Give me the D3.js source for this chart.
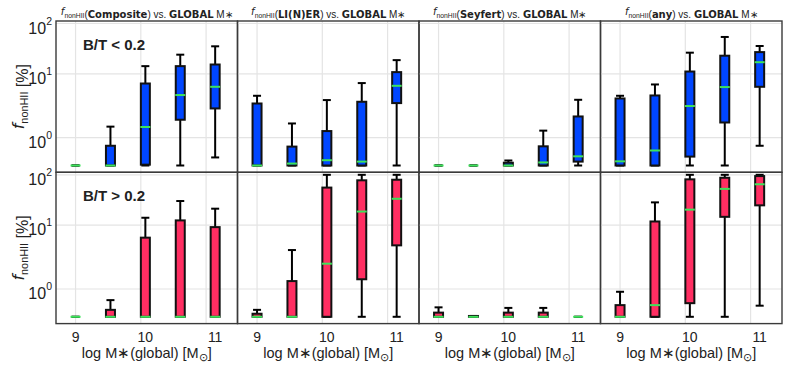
<!DOCTYPE html>
<html>
<head>
<meta charset="utf-8">
<script src="https://cdn.jsdelivr.net/npm/d3@7"></script>
<style>
body { margin: 0; background: #fff; }
text { font-family: "Liberation Sans", Arial, sans-serif; fill: #222; }
</style>
</head>
<body>
<svg id="chart"></svg>
<script>
var masses = [9, 9.5, 10, 10.5, 11];
var massTicks = [9, 10, 11];
var fracTicks = [1, 10, 100];
var fracTickExp = ["0", "1", "2"];
var classes = ["Composite", "LI(N)ER", "Seyfert", "any"];
var rowLabels = ["B/T < 0.2", "B/T > 0.2"];

// one box per mass bin: [whisker low, q1, median, q3, whisker high], in per cent
var compositeDisk = [[0,0,0,0,0], [0,0,0,0.71,1.49], [0,0.03,1.47,7.05,14.2], [0,1.91,4.65,14.2,24], [0.29,2.87,6.26,15.3,35.2]];
var linerDisk     = [[0,0,0,3.43,4.53], [0,0,0.07,0.68,1.67], [0,0,0.19,1.27,3.88], [0,0,0.14,3.65,7.16], [0,3.48,6.49,10.8,18.7]];
var seyfertDisk   = [[0,0,0,0,0], [0,0,0,0,0], [0,0,0,0.1,0.18], [0,0,0.11,0.69,1.29], [0,0.14,0.33,2.15,3.92]];
var anyDisk       = [[0,0,0.15,4.11,4.53], [0,0,0.54,4.58,6.81], [0,0.32,3.13,11.1,26.3], [0,1.73,6.2,22.9,54], [0.71,6.26,17,27,35.7]];

var compositeBulge = [[0,0,0,0,0], [0,0,0,0.25,0.6], [0,0,0,6.36,14], [0,0,0,12.4,30.1], [0,0,0,9.3,21.2]];
var linerBulge     = [[0,0,0,0.11,0.25], [0,0,0,1.33,4.07], [0,0,2.49,55.7,100], [0,1.42,18.6,77.7,100], [0,4.82,33.4,79.8,100]];
var seyfertBulge   = [[0,0,0,0.15,0.34], [0,0,0,0.03,0.03], [0,0,0,0.15,0.32], [0,0,0,0.15,0.32], [0,0,0,0,0]];
var anyBulge       = [[0,0,0,0.42,0.9], [0,0,0.42,11.8,28.3], [0,0.49,20.3,81.2,100], [0,14.6,52.5,87.3,100], [0.4,24.7,64.8,94.3,100]];

var rows = [
	[compositeDisk, linerDisk, seyfertDisk, anyDisk],
	[compositeBulge, linerBulge, seyfertBulge, anyBulge]
];
var rowFill = ["#0046ff", "#ff2e62"];

var svgWidth = 789, svgHeight = 368;
var margin = { top: 21, left: 56 };
var panelW = 181.5, panelH = 151.3;

var svg = d3.select("#chart")
	.attr("width", svgWidth)
	.attr("height", svgHeight);

svg.append("rect").attr("width", svgWidth).attr("height", svgHeight).attr("fill", "#fff");

var x = d3.scaleLinear()
	.domain([8.72, 11.32])
	.range([0, panelW]);

// linear below 1 %, logarithmic above (decades are not the same height in the figure)
function squash(v) {
	return v <= 1 ? v : 1 + Math.log10(v);
}
var yLin = d3.scaleLinear()
	.domain([0, 1, 2, 3])
	.range([144.5, 116.7, 52.8, 2.5]);
function y(v) { return yLin(squash(v)); }

function addFnonHII(sel, size) {
	sel.append("tspan").attr("font-style", "italic").attr("font-family", "DejaVu Sans").text("f");
	sel.append("tspan").attr("font-size", size * 0.68).attr("dy", size * 0.25).text("nonHII");
	sel.append("tspan").attr("dy", -size * 0.25).text("");
}

for (var r = 0; r < 2; r++) {
	for (var c = 0; c < 4; c++) {
		var g = svg.append("g")
			.attr("transform", "translate(" + (margin.left + c * panelW) + "," + (margin.top + r * panelH) + ")");

		// grid
		g.selectAll(".hgrid")
			.data(fracTicks)
			.enter().append("line")
			.attr("x1", 0).attr("x2", panelW)
			.attr("y1", function(d) { return y(d); })
			.attr("y2", function(d) { return y(d); })
			.attr("stroke", "#e4e4e4").attr("stroke-width", 1.2);
		g.selectAll(".vgrid")
			.data([9, 9.935, 10.87])
			.enter().append("line")
			.attr("x1", function(d) { return x(d); })
			.attr("x2", function(d) { return x(d); })
			.attr("y1", 0).attr("y2", panelH)
			.attr("stroke", "#e4e4e4").attr("stroke-width", 1.2);

		var boxes = rows[r][c].map(function(b, i) { return { m: masses[i], lo: b[0], q1: b[1], med: b[2], q3: b[3], hi: b[4] }; });

		var bx = g.selectAll(".box")
			.data(boxes)
			.enter().append("g")
			.attr("transform", function(d) { return "translate(" + x(d.m) + ",0)"; });

		bx.append("line")
			.attr("y1", function(d) { return y(d.q3); })
			.attr("y2", function(d) { return y(d.hi); })
			.attr("stroke", "#000").attr("stroke-width", 2);
		bx.append("line")
			.attr("y1", function(d) { return y(d.q1); })
			.attr("y2", function(d) { return y(d.lo); })
			.attr("stroke", "#000").attr("stroke-width", 2);
		bx.append("line")
			.attr("x1", -4).attr("x2", 4)
			.attr("y1", function(d) { return y(d.hi); })
			.attr("y2", function(d) { return y(d.hi); })
			.attr("stroke", "#000").attr("stroke-width", 2);
		bx.append("line")
			.attr("x1", -4).attr("x2", 4)
			.attr("y1", function(d) { return y(d.lo); })
			.attr("y2", function(d) { return y(d.lo); })
			.attr("stroke", "#000").attr("stroke-width", 2);
		bx.filter(function(d) { return d.q3 > d.q1; })
			.append("rect")
			.attr("x", -4.5).attr("width", 9)
			.attr("y", function(d) { return y(d.q3); })
			.attr("height", function(d) { return y(d.q1) - y(d.q3); })
			.attr("fill", rowFill[r])
			.attr("stroke", "#111").attr("stroke-width", 2);
		bx.append("line")
			.attr("x1", -5).attr("x2", 5)
			.attr("y1", function(d) { return y(d.med); })
			.attr("y2", function(d) { return y(d.med); })
			.attr("stroke", "#3de35a").attr("stroke-width", 2);

		// frame
		g.append("rect")
			.attr("width", panelW).attr("height", panelH)
			.attr("fill", "none").attr("stroke", "#3a3a3a").attr("stroke-width", 1.4);

		if (c === 0) {
			var yt = g.selectAll(".ytick")
				.data(fracTicks)
				.enter().append("text")
				.attr("x", -4)
				.attr("y", function(d) { return y(d) + 10; })
				.attr("text-anchor", "end")
				.attr("font-size", 16);
			yt.append("tspan").text("10");
			yt.append("tspan").attr("font-size", 10.5).attr("dy", -9).text(function(d, i) { return fracTickExp[i]; });

			g.append("text")
				.attr("x", 27).attr("y", 50 - 21)
				.attr("font-family", "DejaVu Sans")
				.attr("font-weight", "bold")
				.attr("font-size", 15)
				.text(rowLabels[r]);

			var yl = g.append("text")
				.attr("transform", "translate(-32," + (panelH / 2) + ") rotate(-90)")
				.attr("text-anchor", "middle")
				.attr("font-size", 16);
			addFnonHII(yl, 16);
			yl.append("tspan").text(" [%]");
		}

		if (r === 0) {
			var t = g.append("text")
				.attr("x", panelW / 2).attr("y", -6)
				.attr("text-anchor", "middle")
				.attr("font-size", 10);
			addFnonHII(t, 10);
			t.append("tspan").text("(");
			t.append("tspan").attr("font-family", "DejaVu Sans").attr("font-weight", "bold").text(classes[c]);
			t.append("tspan").text(") vs. ");
			t.append("tspan").attr("font-family", "DejaVu Sans").attr("font-weight", "bold").text("GLOBAL");
			t.append("tspan").text(" M\u2217");
		}

		if (r === 1) {
			g.selectAll(".xtick")
				.data(massTicks)
				.enter().append("text")
				.attr("x", function(d) { return x(d); })
				.attr("y", panelH + 18)
				.attr("text-anchor", "middle")
				.attr("font-size", 14)
				.text(function(d) { return d; });
			var xl = g.append("text")
				.attr("x", panelW / 2).attr("y", panelH + 34.5)
				.attr("text-anchor", "middle")
				.attr("font-size", 14.5);
			xl.append("tspan").text("log M\u2217(global) [M");
			xl.append("tspan").attr("font-size", 10.5).attr("dy", 3).text("\u2299");
			xl.append("tspan").attr("dy", -3).text("]");
		}
	}
}
</script>
</body>
</html>
